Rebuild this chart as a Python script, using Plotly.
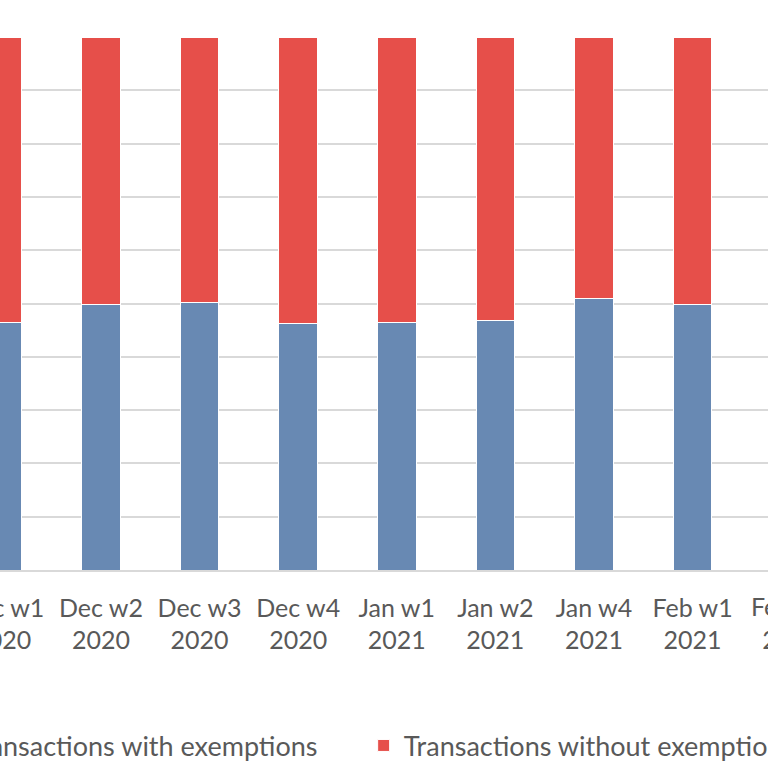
import plotly.graph_objects as go

categories = ["Dec w1<br>2020", "Dec w2<br>2020", "Dec w3<br>2020", "Dec w4<br>2020",
              "Jan w1<br>2021", "Jan w2<br>2021", "Jan w4<br>2021", "Feb w1<br>2021"]
next_category = "Feb w2<br>2021"
with_exemptions = [46.5, 49.8, 50.1, 46.2, 46.5, 46.8, 50.9, 49.8]
without_exemptions = [round(100 - v, 1) for v in with_exemptions]

BLUE = "#6889B3"
RED = "#E64F4A"
TEXT = "#595959"
FONT = "Lato, 'Open Sans', sans-serif"
TICK_SIZE = 25
LEGEND_SIZE = 27

x_range = [-0.024, 7.765]

fig = go.Figure()
fig.add_trace(go.Bar(x=categories, y=with_exemptions, name="Transactions with exemptions",
                     legend="legend",
                     marker=dict(color=BLUE, line=dict(color="#FFFFFF", width=1))))
fig.add_trace(go.Bar(x=categories, y=without_exemptions, name="Transactions without exemptions",
                     legend="legend2",
                     marker=dict(color=RED, line=dict(color="#FFFFFF", width=1))))

# partially visible label of the next category (cut off at right edge)
fig.add_annotation(text=next_category, xref="paper", yref="paper",
                   x=(len(categories) - x_range[0]) / (x_range[1] - x_range[0]),
                   y=0, yshift=-19, xanchor="center", yanchor="top", showarrow=False,
                   font=dict(family=FONT, size=TICK_SIZE, color=TEXT))

legend_common = dict(orientation="h", xanchor="left", y=-0.330, yanchor="middle",
                     font=dict(family=FONT, size=LEGEND_SIZE, color=TEXT),
                     bgcolor="rgba(0,0,0,0)")

fig.update_layout(
    width=768, height=768,
    barmode="stack", bargap=0.61,
    plot_bgcolor="white", paper_bgcolor="white",
    margin=dict(l=0, r=0, t=37, b=198, autoexpand=False),
    font=dict(family=FONT, size=TICK_SIZE, color=TEXT),
    showlegend=True,
    legend=dict(x=-0.095, **legend_common),
    legend2=dict(x=0.4735, **legend_common),
)
fig.update_xaxes(range=x_range, showline=True, linecolor="#D9D9D9", linewidth=1.5,
                 ticks="", ticklabelstandoff=15,
                 tickfont=dict(family=FONT, size=TICK_SIZE, color=TEXT), showgrid=False,
                 automargin=False)
fig.update_yaxes(range=[0, 100], dtick=10, showgrid=True, gridcolor="#D9D9D9", gridwidth=1.5,
                 showticklabels=False, zeroline=False, automargin=False)

fig.write_html("out.html", config={"displayModeBar": False},
               post_script="document.body.style.margin='0';")
